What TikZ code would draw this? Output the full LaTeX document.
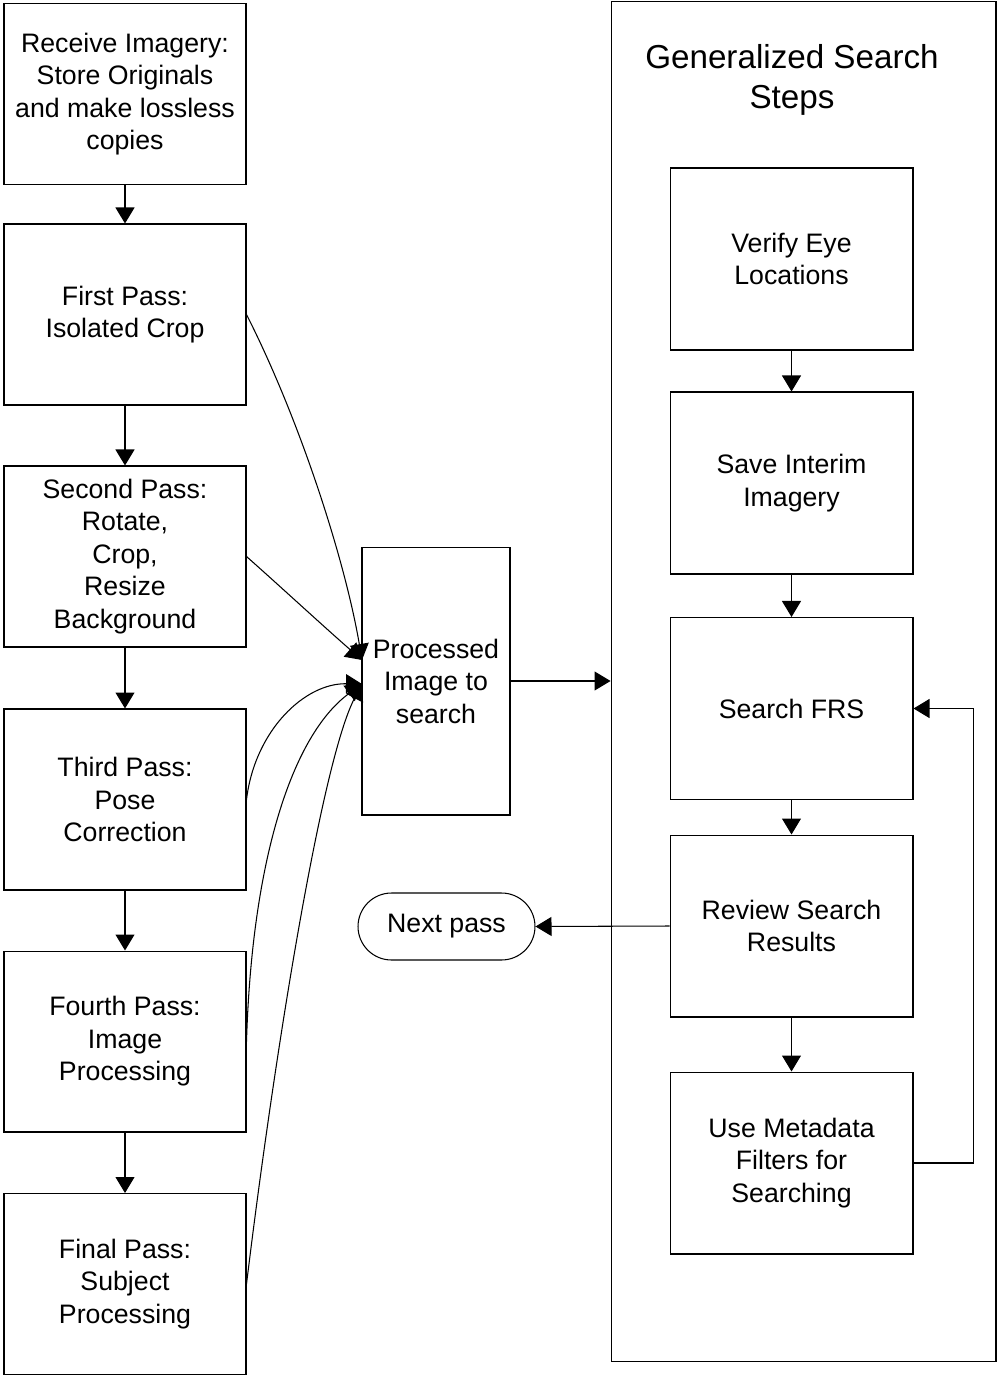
\documentclass[tikz,border=0pt]{standalone}
\usepackage{fontspec}
\setmainfont{Liberation Sans}
\usetikzlibrary{arrows.meta}

\begin{document}
\begin{tikzpicture}[x=0.02cm,y=-0.02cm,line width=0.6pt,
  txt/.style={font=\fontsize{15.2}{18.5}\selectfont,align=center},
  passbox/.style={draw,txt,inner sep=0pt,minimum width=4.84cm,minimum height=3.62cm},
  stepbox/.style={draw,txt,inner sep=0pt,minimum width=4.86cm,minimum height=3.64cm},
  tip/.style={-{Triangle[length=0.32cm,width=0.38cm]}}]
\useasboundingbox (0,0) rectangle (997,1378);

% left column
\node[passbox] (recv) at (125,94) {Receive Imagery:\\Store Originals\\and make lossless\\copies};
\node[passbox] (first) at (125,314.5) {First Pass:\\Isolated Crop};
\node[passbox] (second) at (125,556.5) {Second Pass:\\Rotate,\\Crop,\\Resize\\Background};
\node[passbox] (third) at (125,799.5) {Third Pass:\\Pose\\Correction};
\node[passbox] (fourth) at (125,1041.5) {Fourth Pass:\\Image\\Processing};
\node[passbox] (final) at (125,1284) {Final Pass:\\Subject\\Processing};

\draw[tip] (recv) -- (first);
\draw[tip] (first) -- (second);
\draw[tip] (second) -- (third);
\draw[tip] (third) -- (fourth);
\draw[tip] (fourth) -- (final);

% middle
\node[draw,txt,inner sep=0pt,minimum width=2.96cm,minimum height=5.36cm] (proc) at (436,681) {Processed\\Image to\\search};
\coordinate (inA) at (362,660);
\coordinate (inB) at (362,684);

\draw[tip] (first.east) .. controls (300,420) and (345,560) .. (inA);
\draw[tip] (second.east) .. controls (282,588) and (322,625) .. (inA);
\draw[tip] (third.east) .. controls (255,730) and (305,683) .. (inB);
\draw[tip] (fourth.east) .. controls (252,860) and (292,735) .. (inB);
\draw[tip] (final.east) .. controls (275,1050) and (322,760) .. (inB);

\node[draw,txt,inner sep=0pt,minimum width=3.54cm,minimum height=1.34cm,rounded corners=0.67cm] (next) at (446.5,926.5) {Next pass};

% right column
\node[draw,inner sep=0pt,minimum width=7.7cm,minimum height=27.22cm] (gss) at (803.5,681.5) {};
\node[font=\fontsize{18.9}{22.6}\selectfont,align=center] (title) at (792,80) {Generalized Search\\Steps};

\node[stepbox] (verify) at (791.5,259) {Verify Eye\\Locations};
\node[stepbox] (save) at (791.5,483) {Save Interim\\Imagery};
\node[stepbox] (frs) at (791.5,708.5) {Search FRS};
\node[stepbox] (review) at (791.5,926) {Review Search\\Results};
\node[stepbox] (meta) at (791.5,1163) {Use Metadata\\Filters for\\Searching};

\draw[tip] (verify) -- (save);
\draw[tip] (save) -- (frs);
\draw[tip] (frs) -- (review);
\draw[tip] (review) -- (meta);
\draw[tip] (meta.east) -- ++(60,0) |- (frs.east);

\draw[tip] (proc.east) -- (proc.east -| gss.west);
\draw[tip] (review.west) -- (next.east);
\end{tikzpicture}
\end{document}
